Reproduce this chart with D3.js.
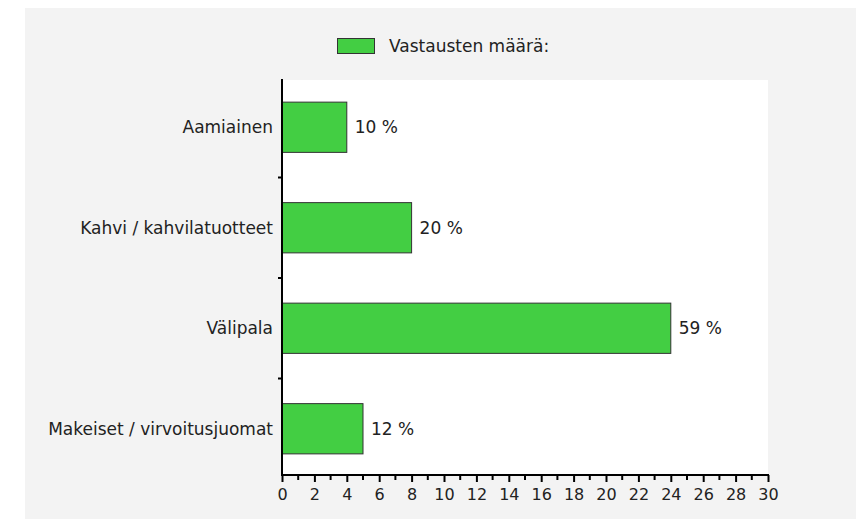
<!DOCTYPE html>
<html>
<head>
<meta charset="utf-8">
<script src="https://cdn.jsdelivr.net/npm/d3@7"></script>
<style>
    body { margin: 0; background: #fff; }
    text { font-family: "DejaVu Sans", Verdana, sans-serif; fill: #222; }
</style>
</head>
<body>
<script>
(function(){

    //chart data
    var categories = ["Aamiainen", "Kahvi / kahvilatuotteet", "Välipala", "Makeiset / virvoitusjuomat"];
    var counts = [4, 8, 24, 5];
    var percentLabels = ["10 %", "20 %", "59 %", "12 %"];
    var xTicks = d3.range(0, 31, 2);
    var seriesName = "Vastausten määrä:";

    var width = 856,
        height = 519,
        plotLeft = 282,
        plotRight = 768,
        plotTop = 80,
        plotBottom = 475;

    var svg = d3.select("body")
        .append("svg")
        .attr("width", width)
        .attr("height", height);

    //gray background
    svg.append("rect")
        .attr("x", 25)
        .attr("y", 8)
        .attr("width", width - 25)
        .attr("height", height - 8)
        .attr("fill", "#f3f3f3");

    //white plot area
    svg.append("rect")
        .attr("x", plotLeft)
        .attr("y", plotTop)
        .attr("width", plotRight - plotLeft)
        .attr("height", plotBottom - plotTop)
        .attr("fill", "#fff");

    var xScale = d3.scaleLinear()
        .domain([0, 30])
        .range([plotLeft, plotRight]);

    //category bands run slightly past the plot edges
    var yScale = d3.scaleBand()
        .domain(categories)
        .range([77, 479])
        .paddingInner(0.5)
        .paddingOuter(0.25);

    //bars
    svg.selectAll(".bar")
        .data(categories)
        .enter()
        .append("rect")
        .attr("class", "bar")
        .attr("x", xScale(0))
        .attr("y", function(d){ return yScale(d); })
        .attr("width", function(d, i){ return xScale(counts[i]) - xScale(0); })
        .attr("height", yScale.bandwidth())
        .attr("fill", "#43ce43")
        .attr("stroke", "#333")
        .attr("stroke-width", 1);

    //value labels
    svg.selectAll(".numbers")
        .data(categories)
        .enter()
        .append("text")
        .attr("class", "numbers")
        .attr("x", function(d, i){ return xScale(counts[i]) + 8; })
        .attr("y", function(d){ return yScale(d) + yScale.bandwidth() / 2; })
        .attr("dy", "0.35em")
        .style("font-size", "17px")
        .text(function(d, i){ return percentLabels[i]; });

    //category labels
    svg.selectAll(".cat")
        .data(categories)
        .enter()
        .append("text")
        .attr("class", "cat")
        .attr("x", plotLeft - 9)
        .attr("y", function(d){ return yScale(d) + yScale.bandwidth() / 2; })
        .attr("dy", "0.35em")
        .attr("text-anchor", "end")
        .style("font-size", "17px")
        .text(function(d){ return d; });

    //y axis boundary ticks between categories
    svg.selectAll(".ytick")
        .data(categories.slice(0, categories.length - 1))
        .enter()
        .append("line")
        .attr("x1", plotLeft - 4)
        .attr("x2", plotLeft)
        .attr("y1", function(d){ return yScale(d) + yScale.bandwidth() / 2 + yScale.step() / 2; })
        .attr("y2", function(d){ return yScale(d) + yScale.bandwidth() / 2 + yScale.step() / 2; })
        .attr("stroke", "#000")
        .attr("stroke-width", 2);

    //x axis minor ticks
    svg.selectAll(".minor")
        .data(d3.range(1, 30, 2))
        .enter()
        .append("line")
        .attr("x1", function(d){ return xScale(d); })
        .attr("x2", function(d){ return xScale(d); })
        .attr("y1", plotBottom)
        .attr("y2", plotBottom + 5)
        .attr("stroke", "#000")
        .attr("stroke-width", 2);

    //x axis
    var xAxis = d3.axisBottom(xScale)
        .tickValues(xTicks)
        .tickSize(7)
        .tickPadding(7)
        .tickFormat(d3.format("d"));

    var axis = svg.append("g")
        .attr("transform", "translate(0," + plotBottom + ")")
        .call(xAxis);
    axis.select(".domain").remove();
    axis.selectAll("line").attr("stroke", "#000").attr("stroke-width", 2);
    axis.selectAll("text")
        .style("font-size", "16px")
        .style("font-family", "DejaVu Sans, Verdana, sans-serif")
        .attr("fill", "#222");

    //axis lines
    svg.append("line")
        .attr("x1", plotLeft)
        .attr("x2", plotLeft)
        .attr("y1", plotTop - 1)
        .attr("y2", plotBottom + 1)
        .attr("stroke", "#000")
        .attr("stroke-width", 2);
    svg.append("line")
        .attr("x1", plotLeft - 1)
        .attr("x2", plotRight + 1)
        .attr("y1", plotBottom)
        .attr("y2", plotBottom)
        .attr("stroke", "#000")
        .attr("stroke-width", 2);

    //legend
    svg.append("rect")
        .attr("x", 337.5)
        .attr("y", 38.5)
        .attr("width", 37)
        .attr("height", 15)
        .attr("fill", "#43ce43")
        .attr("stroke", "#333");
    svg.append("text")
        .attr("x", 389)
        .attr("y", 46)
        .attr("dy", "0.35em")
        .style("font-size", "17px")
        .text(seriesName);

})();
</script>
</body>
</html>
